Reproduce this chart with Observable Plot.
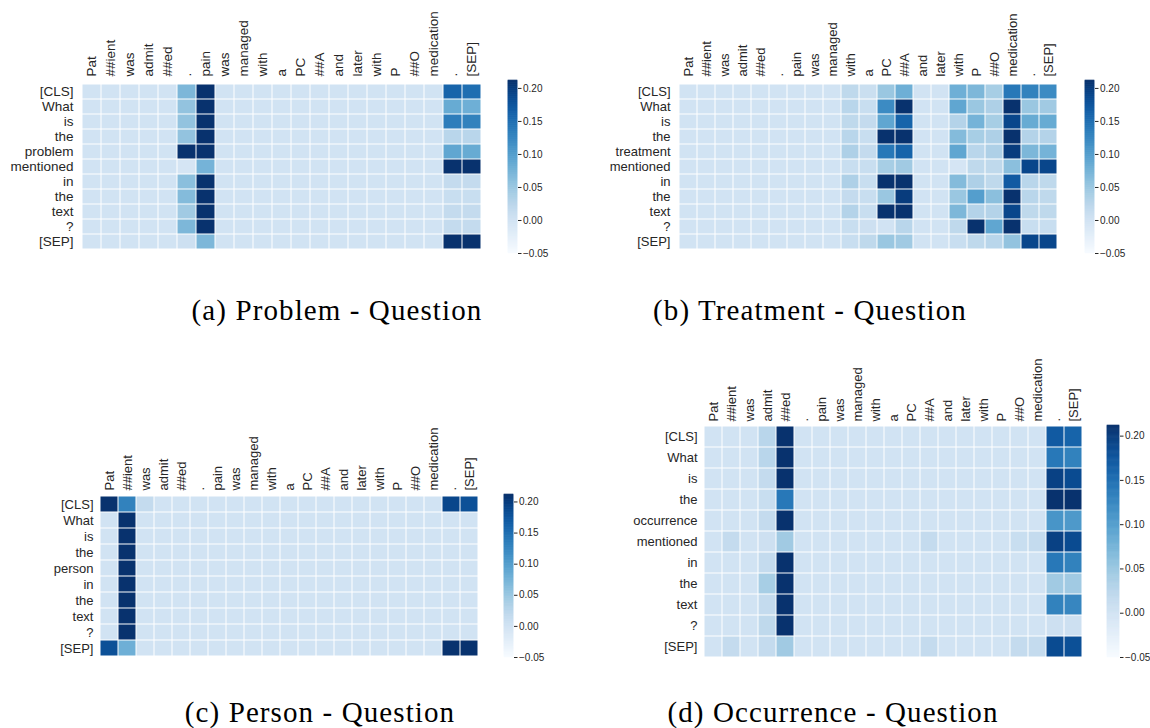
<!DOCTYPE html>
<html>
<head>
<meta charset="utf-8">
<script src="https://cdn.jsdelivr.net/npm/d3@7"></script>
<script src="https://cdn.jsdelivr.net/npm/@observablehq/plot@0.6"></script>
<style>
  html, body { margin: 0; padding: 0; background: #fff; }
  #root { position: relative; width: 1150px; height: 728px; overflow: hidden; background: #fff; }
  .abs { position: absolute; }
  .cap { position: absolute; font-family: "Liberation Serif", "Times New Roman", serif; font-size: 29px; letter-spacing: 1.1px; line-height: 1; color: #000; white-space: nowrap; transform: translateX(-50%); }
</style>
</head>
<body>
<div id="root"></div>
<script>
// ---- data ----
const tokens = ["Pat","##ient","was","admit","##ed",".","pain","was","managed","with","a","PC","##A","and","later","with","P","##O","medication",".","[SEP]"];

const rowsA = ["[CLS]","What","is","the","problem","mentioned","in","the","text","?","[SEP]"];
const valuesA = [
  [0,0,0,0,0,.07,.21,0,0,0,0,0,0,0,0,0,0,0,0,.16,.15],
  [0,0,0,0,0,.055,.21,0,0,0,0,0,0,0,0,0,0,0,0,.085,.08],
  [0,0,0,0,0,.055,.21,0,0,0,0,0,0,0,0,0,0,0,0,.135,.13],
  [0,0,0,0,0,.055,.21,0,0,0,0,0,0,0,0,0,0,0,0,.025,.025],
  [0,0,0,0,0,.21,.21,0,0,0,0,0,0,0,0,0,0,0,0,.09,.085],
  [0,0,0,0,0,-.005,.075,0,0,0,0,0,0,0,0,0,0,0,0,.21,.21],
  [0,0,0,0,0,.06,.21,0,0,0,0,0,0,0,0,0,0,0,0,.015,.015],
  [0,0,0,0,0,.065,.21,0,0,0,0,0,0,0,0,0,0,0,0,.01,.01],
  [0,0,0,0,0,.045,.21,0,0,0,0,0,0,0,0,0,0,0,0,.015,.015],
  [0,0,0,0,0,.07,.21,0,0,0,0,0,0,0,0,0,0,0,0,.015,.015],
  [0,0,0,0,0,.005,.07,0,0,0,0,0,0,0,0,0,0,0,0,.21,.21]
];

const rowsB = ["[CLS]","What","is","the","treatment","mentioned","in","the","text","?","[SEP]"];
const valuesB = [
  [0,0,0,0,0,0,0,0,0,.02,.008,.05,.08,0,0,.08,.07,.04,.14,.13,.12],
  [0,0,0,0,0,0,0,0,0,.025,.01,.12,.21,0,0,.09,.05,.035,.21,.05,.045],
  [0,0,0,0,0,0,0,0,0,.02,.015,.09,.16,0,0,.03,.075,.04,.19,.085,.085],
  [0,0,0,0,0,0,0,0,0,.025,.01,.21,.21,0,0,.065,.04,.035,.21,.03,.03],
  [0,0,0,0,0,0,0,0,0,.035,.015,.14,.16,0,0,.09,.025,.035,.2,.07,.075],
  [0,0,0,0,0,0,0,0,0,.01,.01,.04,.045,0,0,-.005,.02,.02,.06,.19,.19],
  [0,0,0,0,0,0,0,0,0,.035,.01,.21,.21,0,0,.065,.035,.02,.17,.025,.02],
  [0,0,0,0,0,0,0,0,0,.015,.01,.05,.2,0,0,.05,.1,.06,.21,.025,.02],
  [0,0,0,0,0,0,0,0,0,.03,.01,.21,.21,0,0,.07,.03,.03,.19,.02,.02],
  [0,0,0,0,0,0,0,0,0,.01,.005,0,.025,0,0,.02,.21,.09,.21,.01,.01],
  [0,0,0,0,0,0,0,0,0,.01,.02,.05,.045,0,0,.01,.02,.025,.055,.19,.19]
];

const rowsC = ["[CLS]","What","is","the","person","in","the","text","?","[SEP]"];
const valuesC = [
  [.21,.13,.015,0,0,0,0,0,0,0,0,0,0,0,0,0,0,0,0,.19,.18],
  [0,.21,0,0,0,0,0,0,0,0,0,0,0,0,0,0,0,0,0,0,0],
  [0,.21,0,0,0,0,0,0,0,0,0,0,0,0,0,0,0,0,0,0,0],
  [0,.21,0,0,0,0,0,0,0,0,0,0,0,0,0,0,0,0,0,0,0],
  [0,.21,0,0,0,0,0,0,0,0,0,0,0,0,0,0,0,0,0,0,0],
  [0,.21,0,0,0,0,0,0,0,0,0,0,0,0,0,0,0,0,0,0,0],
  [0,.21,0,0,0,0,0,0,0,0,0,0,0,0,0,0,0,0,0,0,0],
  [0,.21,0,0,0,0,0,0,0,0,0,0,0,0,0,0,0,0,0,0,0],
  [0,.21,0,0,0,0,0,0,0,0,0,0,0,0,0,0,0,0,0,0,0],
  [.18,.08,0,0,0,0,0,0,0,0,0,0,0,0,0,0,0,0,0,.21,.21]
];

const rowsD = ["[CLS]","What","is","the","occurrence","mentioned","in","the","text","?","[SEP]"];
const valuesD = [
  [0,0,0,.025,.21,0,0,0,0,0,0,0,0,0,0,0,0,0,0,.17,.16],
  [0,0,0,.025,.21,0,0,0,0,0,0,0,0,0,0,0,0,0,0,.14,.13],
  [0,0,0,.015,.21,0,0,0,0,0,0,0,0,0,0,0,0,0,0,.195,.185],
  [0,0,0,.01,.14,0,0,0,0,0,0,0,0,0,0,0,0,0,0,.21,.21],
  [0,0,0,.015,.21,0,0,0,0,0,0,0,0,0,0,0,0,0,0,.11,.105],
  [0,.015,0,.005,.045,0,0,0,0,0,0,0,.015,0,0,0,0,.01,.015,.195,.185],
  [0,0,0,.015,.21,0,0,0,0,0,0,0,0,0,0,0,0,0,0,.14,.13],
  [0,0,0,.04,.21,0,0,0,0,0,0,0,0,0,0,0,0,0,0,.045,.045],
  [0,0,0,.015,.21,0,0,0,0,0,0,0,0,0,0,0,0,0,0,.13,.125],
  [0,0,0,.02,.21,0,0,0,0,0,0,0,0,0,0,0,0,0,0,.005,.005],
  [0,.015,0,.015,.045,0,0,0,0,0,0,0,.015,0,0,0,0,.015,.015,.185,.18]
];

const colorDomain = [-0.05, 0.212];
const colorTicks = [-0.05, 0, 0.05, 0.10, 0.15, 0.20];
const captions = ["(a) Problem - Question", "(b) Treatment - Question", "(c) Person - Question", "(d) Occurrence - Question"];

// ---- layout ----
const root = document.getElementById("root");
const colorOpt = {type: "linear", domain: colorDomain, scheme: "blues", clamp: true};
const fontFamily = "'Liberation Sans', Arial, sans-serif";

function place(el, left, top) {
  el.classList.add("abs");
  el.style.left = left + "px";
  el.style.top = top + "px";
  root.appendChild(el);
}

function heatmap(rows, values, box) {
  const data = rows.flatMap((r, i) => values[i].map((v, j) => ({row: i, col: j, v})));
  const rowIdx = d3.range(rows.length);
  const chart = Plot.plot({
    width: box.w, height: box.h,
    marginLeft: box.ml, marginRight: box.mr, marginTop: box.mt, marginBottom: box.mb,
    style: {fontFamily, fontSize: box.fs + "px", color: "#262626", background: "transparent", overflow: "visible"},
    x: {type: "band", domain: d3.range(tokens.length), padding: 0, label: null},
    y: {type: "band", domain: rowIdx, padding: 0, label: null, axis: null},
    color: colorOpt,
    marks: [
      Plot.cell(data, {x: "col", y: "row", fill: "v", inset: 0.5}),
      Plot.axisX({anchor: "top", tickFormat: i => tokens[i], tickRotate: -90, textAnchor: "start", tickSize: 0, tickPadding: 4, label: null}),
      Plot.text(rowIdx, {y: d => d, text: d => rows[d], frameAnchor: "left", textAnchor: "end", dx: -5, fill: "#262626", fontSize: box.fs})
    ]
  });
  place(chart, box.left, box.top);
}

function colorbar(box) {
  const step = 0.001;
  const stops = d3.range(colorDomain[0], colorDomain[1], step);
  const chart = Plot.plot({
    width: box.w + 40, height: box.h,
    marginLeft: 0, marginRight: 40, marginTop: 0, marginBottom: 0,
    style: {fontFamily, fontSize: "10px", color: "#262626", background: "transparent", overflow: "visible"},
    x: {domain: [0, 1], axis: null},
    y: {domain: colorDomain, axis: null},
    color: colorOpt,
    marks: [
      Plot.rect(stops, {x1: 0, x2: 1, y1: d => d, y2: d => Math.min(d + step, colorDomain[1]), fill: d => d, stroke: d => d, strokeWidth: 0.6}),
      Plot.axisY({anchor: "right", ticks: colorTicks, tickFormat: d3.format(".2f"), textAnchor: "start", tickSize: 3.5, tickPadding: 2, label: null})
    ]
  });
  place(chart, box.left, box.top);
}

// panel a
heatmap(rowsA, valuesA, {left: 0, top: 0, w: 560, h: 270, ml: 78, mr: 76, mt: 80, mb: 17, fs: 13.5});
colorbar({left: 508, top: 80, w: 9, h: 173});
// panel b
heatmap(rowsB, valuesB, {left: 560, top: 0, w: 590, h: 270, ml: 115, mr: 89, mt: 80, mb: 17, fs: 13});
colorbar({left: 1085, top: 80, w: 9, h: 173});
// panel c
heatmap(rowsC, valuesC, {left: 0, top: 360, w: 560, h: 310, ml: 98, mr: 80, mt: 134, mb: 13, fs: 13});
colorbar({left: 504, top: 494, w: 9, h: 163});
// panel d
heatmap(rowsD, valuesD, {left: 560, top: 360, w: 590, h: 310, ml: 142, mr: 67, mt: 65, mb: 13, fs: 13});
colorbar({left: 1107, top: 425, w: 12, h: 232});

// captions
const capPos = [[337, 296], [810, 296], [320, 698], [833, 698]];
captions.forEach((t, i) => {
  const d = document.createElement("div");
  d.className = "cap";
  d.textContent = t;
  d.style.left = capPos[i][0] + "px";
  d.style.top = capPos[i][1] + "px";
  root.appendChild(d);
});
</script>
</body>
</html>
